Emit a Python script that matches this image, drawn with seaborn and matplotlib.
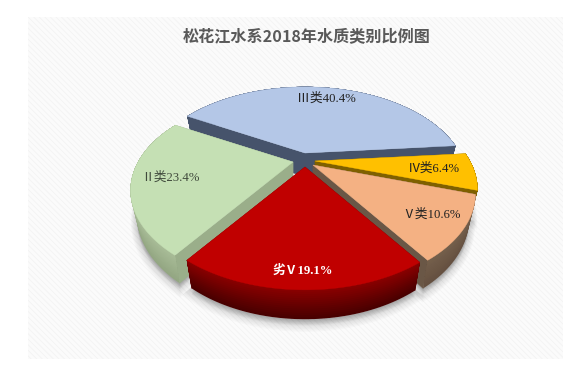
import numpy as np
import matplotlib
matplotlib.use("Agg")
import matplotlib.pyplot as plt
from matplotlib.colors import to_rgb
from matplotlib.patches import Rectangle
import seaborn as sns

title = "松花江水系2018年水质类别比例图"
categories = ["Ⅲ类", "Ⅱ类", "劣Ⅴ", "Ⅴ类", "Ⅳ类"]
shares = [40.4, 23.4, 19.1, 10.6, 6.4]
top_colors = ["#b4c7e7", "#c5e0b4", "#c00000", "#f4b183", "#ffc000"]
rim_top = ["#46536b", "#a9bd98", "#8c0000", "#75604c", "#7f6000"]
rim_bottom = ["#46536b", "#93a682", "#480000", "#655040", "#7f6000"]
face_colors = ["#46536b", "#9aae8a", "#700000", "#6a5746", "#7f6000"]
text_colors = ["#222222", "#404a3c", "#ffffff", "#222222", "#222222"]
apex = [(305, 153), (293, 162), (305, 167), (313, 165), (315, 161)]
label_r = [0.80, 0.77, 0.887, 0.82, 0.75]
paint_order = [0, 4, 1, 3, 2]

START, RX, RY, K, DEPTH, SHRINK = 5.0, 155.0, 86.0, 0.30, 24.0, 0.96

sns.set_theme(style="white")
plt.rcParams["hatch.linewidth"] = 0.6
fig = plt.figure(figsize=(5.63, 3.73), dpi=100, facecolor="white")
ax = fig.add_axes([0, 0, 1, 1])
ax.set_xlim(0, 563)
ax.set_ylim(373, 0)
ax.axis("off")
sns.despine(ax=ax, left=True, bottom=True)

ax.add_patch(Rectangle((28, 17), 535, 342, facecolor="#fbfbfb", edgecolor="#f3f3f3",
                       hatch="\\\\\\\\\\\\", lw=0, zorder=0))


def top_pt(c, u, v):
    p = 1 / (1 + K * v)
    return np.c_[c[0] + u * RX * p, c[1] - v * RY * p]


def low_pt(c, u, v, t=1.0):
    p = 1 / (1 + K * v)
    s = 1 - (1 - SHRINK) * t
    return np.c_[c[0] + u * RX * p * s, c[1] - v * RY * p * s + t * DEPTH * p]


edges = START + np.r_[0, np.cumsum(shares)] * 360 / sum(shares)


def arc(i):
    a = np.radians(np.linspace(edges[i], edges[i + 1], 60))
    return np.cos(a), np.sin(a)


# soft shadow under the pie
for grow in np.linspace(9, 1, 9):
    for i in range(len(shares)):
        u, v = arc(i)
        if np.sin(np.radians((edges[i] + edges[i + 1]) / 2)) > 0.3:
            continue
        pts = low_pt(apex[i], u, v) + np.array([0, grow * 0.7])
        pts = np.vstack([[apex[i][0], apex[i][1] + DEPTH], pts])
        ax.fill(pts[:, 0], pts[:, 1], color="black", alpha=0.018, lw=grow, zorder=1)

z = 2
zero = np.array([0.0])
for i in paint_order:
    c = apex[i]
    u, v = arc(i)
    for uu, vv in [(u[0], v[0]), (u[-1], v[-1])]:
        a0 = top_pt(c, zero, zero)
        a1 = low_pt(c, zero, zero)
        b0 = top_pt(c, np.array([uu]), np.array([vv]))
        b1 = low_pt(c, np.array([uu]), np.array([vv]))
        q = np.vstack([a0, b0, b1, a1])
        ax.fill(q[:, 0], q[:, 1], color=face_colors[i], lw=0.3, zorder=z)
    # rim painted as one solid band, then narrower bands shading towards the base
    n = 14
    base = low_pt(c, u, v, 0.0)
    for j in range(n):
        t1 = 1 - j / n
        col = (1 - t1) * np.array(to_rgb(rim_top[i])) + t1 * np.array(to_rgb(rim_bottom[i]))
        s1 = low_pt(c, u, v, t1)
        q = np.vstack([base, s1[::-1]])
        ax.fill(q[:, 0], q[:, 1], color=col, lw=0, zorder=z)
    t = top_pt(c, u, v)
    q = np.vstack([c, t])
    ax.fill(q[:, 0], q[:, 1], color=top_colors[i], lw=0.3, zorder=z + 0.5)
    z += 1

fam = ["Liberation Serif", "Noto Sans CJK SC", "DejaVu Sans"]
for i, name in enumerate(categories):
    mid = np.radians((edges[i] + edges[i + 1]) / 2)
    pos = top_pt(apex[i], np.array([np.cos(mid) * label_r[i]]), np.array([np.sin(mid) * label_r[i]]))[0]
    ax.text(pos[0], pos[1], f"{name}{shares[i]}%", ha="center", va="center", fontsize=9.2,
            color=text_colors[i], family=fam, weight="bold" if i == 2 else "normal", zorder=50)

ax.text(307, 36, title, ha="center", va="center", fontsize=11.6, color="#595959",
        family=["Noto Sans CJK SC", "DejaVu Sans"], weight="bold", zorder=50)

fig.savefig("out.png", dpi=100)
